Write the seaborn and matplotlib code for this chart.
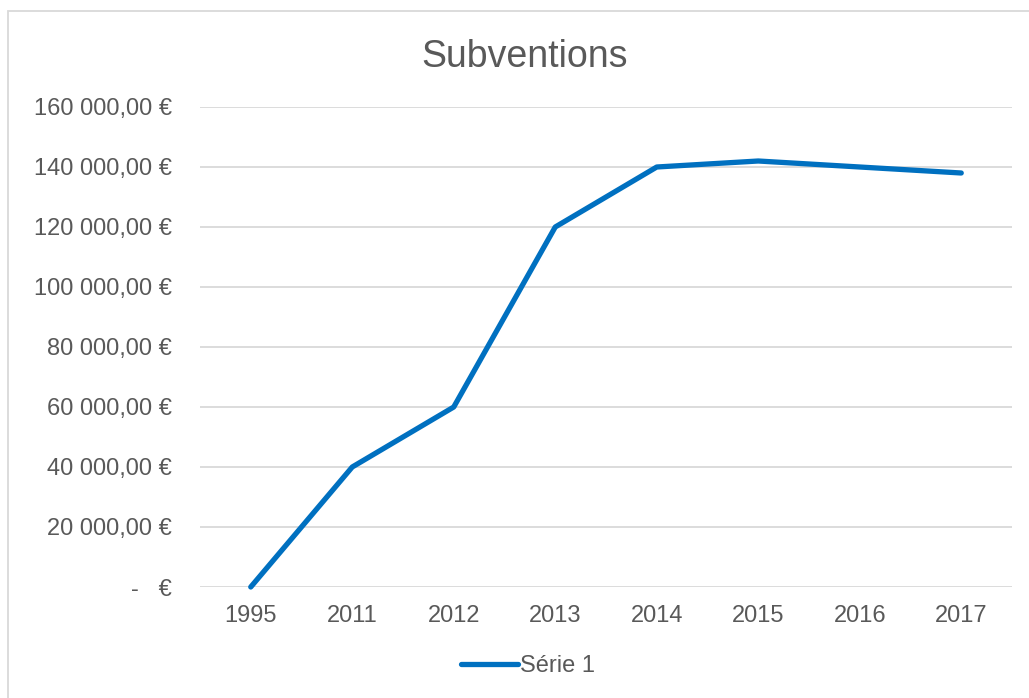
import matplotlib
matplotlib.use("Agg")
import matplotlib.pyplot as plt
import matplotlib.patches as mpatches
import seaborn as sns
import pandas as pd

# data
years = ["1995", "2011", "2012", "2013", "2014", "2015", "2016", "2017"]
subventions = [0, 40000, 60000, 120000, 140000, 142000, 140000, 138000]
y_ticks = [0, 20000, 40000, 60000, 80000, 100000, 120000, 140000, 160000]

df = pd.DataFrame({"annee": years, "montant": subventions})

sns.set_theme(style="white")
plt.rcParams["font.family"] = ["Liberation Sans", "DejaVu Sans"]

W, H = 1029, 698
fig = plt.figure(figsize=(W / 100, H / 100), dpi=100)
ax = fig.add_axes([200 / W, 1 - 587 / H, (1012 - 200) / W, (587 - 107) / H])

text_col = "#595959"
blue = "#0070C0"

sns.lineplot(data=df, x="annee", y="montant", ax=ax, color=blue, linewidth=3.8,
             sort=False, label="Série 1", legend=False)
ax.lines[0].set_solid_capstyle("round")
ax.lines[0].set_clip_on(False)

ax.set_xlim(-0.5, len(years) - 0.5)
ax.set_ylim(0, 160000)
ax.set_yticks(y_ticks)


def euro(v):
    if v == 0:
        return "-   €"
    return f"{v:,.2f}".replace(",", " ").replace(".", ",") + " €"


ax.set_yticklabels([euro(v) for v in y_ticks])
ax.yaxis.grid(True, color="#D9D9D9", linewidth=1.3)
ax.set_axisbelow(True)
for s in ax.spines.values():
    s.set_visible(False)
ax.tick_params(axis="y", length=0, pad=20, labelsize=17, labelcolor=text_col)
ax.tick_params(axis="x", length=0, pad=13, labelsize=17, labelcolor=text_col)
ax.set_xlabel("")
ax.set_ylabel("")

fig.text(525 / W, 1 - 57 / H, "Subventions", ha="center", va="center",
         fontsize=27, color=text_col)

handles, labels = ax.get_legend_handles_labels()
leg = fig.legend(handles, labels, loc="center", bbox_to_anchor=(528 / W, 1 - 666 / H),
                 frameon=False, fontsize=17, handlelength=2.4, handletextpad=0.1,
                 labelcolor=text_col)

# chart frame (only top/left visible in the crop)
fig.patches.append(mpatches.Rectangle((8 / W, -0.05), 1.1, 1 - 11 / H + 0.05,
                                      transform=fig.transFigure, fill=False,
                                      edgecolor="#D9D9D9", linewidth=1.3))

fig.savefig("out.png", dpi=100)
